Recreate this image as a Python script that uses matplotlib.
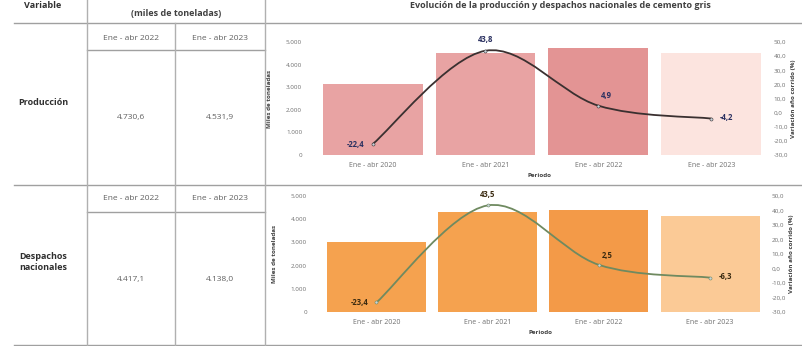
import matplotlib.pyplot as plt
from matplotlib.lines import Line2D
from matplotlib.path import Path
from matplotlib.patches import PathPatch
from matplotlib.ticker import FuncFormatter

plt.rcParams['font.family'] = ['Open Sans', 'DejaVu Sans']

# data
periodos = ["Ene - abr 2020", "Ene - abr 2021", "Ene - abr 2022", "Ene - abr 2023"]
prod_miles = [3136.0, 4509.6, 4730.6, 4531.9]
prod_var = [-22.4, 43.8, 4.9, -4.2]
desp_miles = [3003.0, 4309.4, 4417.1, 4138.0]
desp_var = [-23.4, 43.5, 2.5, -6.3]

tabla_cols = ["Ene - abr 2022", "Ene - abr 2023"]
tabla_prod = ["4.730,6", "4.531,9"]
tabla_desp = ["4.417,1", "4.138,0"]

W, H = 802, 346
fig = plt.figure(figsize=(W / 100, H / 100), dpi=100)


def fx(px):
    return px / W


def fy(py):
    return 1 - py / H


def hline(y, x0, x1):
    fig.add_artist(Line2D([fx(x0), fx(x1)], [fy(y), fy(y)], transform=fig.transFigure,
                          color="#a0a0a0", lw=1.0))


def vline(x, y0, y1):
    fig.add_artist(Line2D([fx(x), fx(x)], [fy(y0), fy(y1)], transform=fig.transFigure,
                          color="#b0b0b0", lw=1.0))


def smooth_path(xs, ys):
    # Catmull-Rom -> cubic Bezier (Excel-like smoothed line)
    pts = list(zip(xs, ys))
    verts = [pts[0]]
    codes = [Path.MOVETO]
    n = len(pts)
    for i in range(n - 1):
        p0 = pts[i - 1] if i > 0 else pts[i]
        p1 = pts[i]
        p2 = pts[i + 1]
        p3 = pts[i + 2] if i + 2 < n else pts[i + 1]
        c1 = (p1[0] + (p2[0] - p0[0]) / 6, p1[1] + (p2[1] - p0[1]) / 6)
        c2 = (p2[0] - (p3[0] - p1[0]) / 6, p2[1] - (p3[1] - p1[1]) / 6)
        verts += [c1, c2, p2]
        codes += [Path.CURVE4] * 3
    return Path(verts, codes)


def fmt_es(v, dec):
    s = f"{v:,.{dec}f}"
    return s.replace(",", "X").replace(".", ",").replace("X", ".")


def chart(rect, miles, var, colors, line_color, lab_color, offsets, width):
    ax = fig.add_axes(rect)
    xs = list(range(len(periodos)))
    ax.bar(xs, miles, width=width, color=colors)
    ax.set_xlim(-0.55, 3.5)
    ax.set_ylim(0, 5000)
    ax.set_yticks(range(0, 5001, 1000))
    ax.yaxis.set_major_formatter(FuncFormatter(lambda v, p: fmt_es(v, 0)))
    ax.set_xticks(xs)
    ax.set_xticklabels(periodos)
    ax.tick_params(length=0, labelsize=4.5, labelcolor="#707070", pad=6)
    ax.tick_params(axis="x", labelsize=5, pad=5)
    for s in ax.spines.values():
        s.set_visible(False)
    ax.set_ylabel("Miles de toneladas", fontsize=4.5, fontweight="bold", color="#404040", labelpad=10)
    ax.set_xlabel("Periodo", fontsize=4.5, fontweight="bold", color="#404040", labelpad=3)

    ax2 = ax.twinx()
    ax2.set_ylim(-30, 50)
    ax2.set_yticks(range(-30, 51, 10))
    ax2.yaxis.set_major_formatter(FuncFormatter(lambda v, p: fmt_es(v, 1)))
    ax2.tick_params(length=0, labelsize=4.5, labelcolor="#707070", pad=4)
    for s in ax2.spines.values():
        s.set_visible(False)
    ax2.set_ylabel("Variación año corrido (%)", fontsize=4.5, fontweight="bold", color="#404040", labelpad=2)
    ax2.add_patch(PathPatch(smooth_path(xs, var), fill=False, edgecolor=line_color, lw=1.3))
    ax2.plot(xs, var, "o", ms=2.2, mfc="#c8d4dc", mec=line_color, mew=0.4)
    for x, v, off in zip(xs, var, offsets):
        ax2.annotate(fmt_es(v, 1), (x, v), xytext=off, textcoords="offset points",
                     ha="center", va="center", fontsize=5.5, fontweight="bold", color=lab_color)
    return ax


offs = [(-12, 0), (0, 8), (6, 7), (11, 1)]
chart([fx(310.4), fy(155), fx(457.5), 113 / H], prod_miles, prod_var,
      ["#e8a3a3", "#e8a3a3", "#e39494", "#fce4df"], "#3a3030", "#2a3060", offs, 0.885)
chart([fx(315.3), fy(312), fx(450.5), 116 / H], desp_miles, desp_var,
      ["#f5a24f", "#f5a24f", "#f39a48", "#fbca96"], "#6f8a60", "#3a2a10", offs, 0.89)

# table lines
hline(23, 14, 802)
hline(50, 87, 265)
hline(185, 14, 802)
hline(212, 87, 265)
hline(345, 14, 802)
vline(87, 0, 346)
vline(175, 23, 346)
vline(265, 0, 346)

# table text
fig.text(fx(43), fy(5.5), "Variable", ha="center", va="center", fontsize=6.5, fontweight="bold", color="#303030")
fig.text(fx(176), fy(14), "(miles de toneladas)", ha="center", va="center", fontsize=6.5,
         fontweight="bold", color="#404040")
fig.text(fx(560), fy(5), "Evolución de la producción y despachos nacionales de cemento gris",
         ha="center", va="center", fontsize=6.5, fontweight="bold", color="#404040")

for y_sub, y_val, y_lab, vals, lab in [(38, 118, 103, tabla_prod, "Producción"),
                                       (198, 280, 262, tabla_desp, "Despachos\nnacionales")]:
    for xc, c, v in zip([131, 220], tabla_cols, vals):
        fig.text(fx(xc), fy(y_sub), c, ha="center", va="center", fontsize=6, color="#606060")
        fig.text(fx(xc), fy(y_val), v, ha="center", va="center", fontsize=6, color="#606060")
    fig.text(fx(43), fy(y_lab), lab, ha="center", va="center", fontsize=6.5, fontweight="bold",
             color="#303030", linespacing=1.3)

fig.savefig("out.png", dpi=100)
